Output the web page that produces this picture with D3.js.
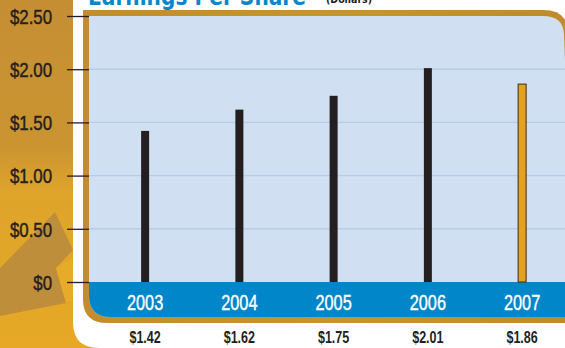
<!DOCTYPE html>
<html>
<head>
<meta charset="utf-8">
<script src="https://cdn.jsdelivr.net/npm/d3@7/dist/d3.min.js"></script>
<style>
  html, body { margin: 0; padding: 0; background: #ffffff; }
  svg { display: block; }
</style>
</head>
<body>
<svg id="chart" width="565" height="348"></svg>
<script>
// Earnings per share by fiscal year
const years = ["2003", "2004", "2005", "2006", "2007"];
const eps = [1.42, 1.62, 1.75, 2.01, 1.86];
const valueLabels = ["$1.42", "$1.62", "$1.75", "$2.01", "$1.86"];
const yTicks = [0, 0.5, 1, 1.5, 2, 2.5];
const yTickLabels = ["$0", "$0.50", "$1.00", "$1.50", "$2.00", "$2.50"];

const W = 565, H = 348;
const face = "'Liberation Sans', Arial, sans-serif";

// squeeze a text selection horizontally to imitate a condensed face
function condense(sel, factor) {
  sel.each(function () {
    const w = this.getComputedTextLength();
    d3.select(this).attr("textLength", w * factor).attr("lengthAdjust", "spacingAndGlyphs");
  });
}

const svg = d3.select("#chart");
const defs = svg.append("defs");

// gold backdrop gradient
const bg = defs.append("linearGradient").attr("id", "bgGrad")
  .attr("x1", 0).attr("y1", 0).attr("x2", 0).attr("y2", 1);
bg.append("stop").attr("offset", "0%").attr("stop-color", "#c58e33");
bg.append("stop").attr("offset", "42%").attr("stop-color", "#cb9431");
bg.append("stop").attr("offset", "55%").attr("stop-color", "#dea42b");
bg.append("stop").attr("offset", "100%").attr("stop-color", "#e6a825");

const rim = defs.append("linearGradient").attr("id", "rimGrad")
  .attr("x1", 0).attr("y1", 0).attr("x2", 1).attr("y2", 0);
rim.append("stop").attr("offset", "0%").attr("stop-color", "#c48c2e");
rim.append("stop").attr("offset", "50%").attr("stop-color", "#c9932f");
rim.append("stop").attr("offset", "100%").attr("stop-color", "#c08a2c");

svg.append("rect").attr("width", W).attr("height", H).attr("fill", "url(#bgGrad)");

// folded shapes in the lower-left backdrop
svg.append("path")
  .attr("d", "M0,268 L55,212 L73,250 L56,268 L66,303 L0,316 Z")
  .attr("fill", "#b98a3e").attr("opacity", 0.85);
svg.append("path")
  .attr("d", "M56,268 L73,258 L73,300 L66,303 Z")
  .attr("fill", "#e9ac2a").attr("opacity", 0.8);

// white card behind the panel, rounded at its bottom-left
svg.append("path")
  .attr("d", "M73,-5 L600,-5 L600,360 L99,360 L99,348 Q73,348 73,322 Z")
  .attr("fill", "#ffffff");

// plot frame geometry
const frameL = 83, frameT = 10, frameR = 590, frameB = 323;
const innerL = 89, innerT = 16, innerB = 317;

// gold rim
svg.append("path")
  .attr("d", `M${frameL},${frameT} L${W - 22},${frameT} Q${W + 2},${frameT} ${W + 4},${frameT + 22} L${frameR},${frameB} L${frameL + 24},${frameB} Q${frameL},${frameB} ${frameL},${frameB - 24} Z`)
  .attr("fill", "url(#rimGrad)");

const y = d3.scaleLinear().domain([0, 2.5]).range([282, 16]);
const x = d3.scaleBand().domain(years).range([98, 569.25]).padding(0);

// light blue plot area
svg.append("path")
  .attr("d", `M${innerL},${innerT} L${W - 22},${innerT} Q${W - 2},${innerT} ${W - 1},${innerT + 18} L${W + 10},${innerB} L${innerL + 22},${innerB} Q${innerL},${innerB} ${innerL},${innerB - 22} Z`)
  .attr("fill", "#d0dff1");

// horizontal grid
svg.append("g").selectAll("line")
  .data(yTicks.filter(d => d > 0 && d < 2.5))
  .join("line")
  .attr("x1", innerL).attr("x2", W)
  .attr("y1", d => y(d)).attr("y2", d => y(d))
  .attr("stroke", "#b6cdea").attr("stroke-width", 1.4);

// blue category band along the baseline
svg.append("path")
  .attr("d", `M${innerL},${y(0)} L${W + 10},${y(0)} L${W + 10},${innerB} L${innerL + 22},${innerB} Q${innerL},${innerB} ${innerL},${innerB - 22} Z`)
  .attr("fill", "#0086c9");

// bars
svg.append("g").selectAll("rect")
  .data(years.map((yr, i) => ({ yr, v: eps[i], i })))
  .join("rect")
  .attr("x", d => x(d.yr) + x.bandwidth() / 2 - 4)
  .attr("width", 8)
  .attr("y", d => y(d.v))
  .attr("height", d => y(0) - y(d.v))
  .attr("fill", d => d.i === years.length - 1 ? "#e4a21f" : "#231f20")
  .attr("stroke", d => d.i === years.length - 1 ? "#3a2c14" : "none")
  .attr("stroke-width", 1);

// y axis ticks and labels
const yAxis = d3.axisLeft(y)
  .tickValues(yTicks)
  .tickFormat((d, i) => yTickLabels[i])
  .tickSize(22)
  .tickPadding(15);
const ya = svg.append("g").attr("transform", `translate(${innerL},0)`).call(yAxis);
ya.select(".domain").remove();
ya.selectAll(".tick line").attr("stroke", "#231f20").attr("stroke-width", 1.3);
ya.selectAll(".tick text")
  .attr("fill", "#231f20")
  .attr("stroke", "#231f20")
  .attr("stroke-width", 0.45)
  .attr("font-family", face)
  .attr("font-size", 20)
  .attr("dy", "0.36em")
  .call(condense, 0.84);

// year labels inside the blue band
svg.append("g").selectAll("text")
  .data(years)
  .join("text")
  .attr("x", d => x(d) + x.bandwidth() / 2)
  .attr("y", 310)
  .attr("text-anchor", "middle")
  .attr("fill", "#ffffff")
  .attr("stroke", "#ffffff")
  .attr("stroke-width", 0.4)
  .attr("font-family", face)
  .attr("font-size", 22)
  .text(d => d)
  .call(condense, 0.74);

// value labels under the band
svg.append("g").selectAll("text")
  .data(years.map((yr, i) => ({ yr, t: valueLabels[i] })))
  .join("text")
  .attr("x", d => x(d.yr) + x.bandwidth() / 2)
  .attr("y", 343)
  .attr("text-anchor", "middle")
  .attr("fill", "#231f20")
  .attr("font-family", face)
  .attr("font-weight", "bold")
  .attr("font-size", 16.5)
  .text(d => d.t)
  .call(condense, 0.76);

// title
svg.append("text")
  .attr("x", 88).attr("y", 5)
  .attr("fill", "#0a87c9")
  .attr("font-family", "'DejaVu Sans', sans-serif")
  .attr("font-weight", "bold")
  .attr("font-size", 24)
  .attr("textLength", 218)
  .attr("lengthAdjust", "spacingAndGlyphs")
  .text("Earnings Per Share");
svg.append("text")
  .attr("x", 326).attr("y", 3)
  .attr("fill", "#231f20")
  .attr("font-family", "'DejaVu Sans', sans-serif")
  .attr("font-weight", "bold")
  .attr("font-size", 10)
  .attr("textLength", 46)
  .attr("lengthAdjust", "spacingAndGlyphs")
  .text("(Dollars)");
</script>
</body>
</html>
